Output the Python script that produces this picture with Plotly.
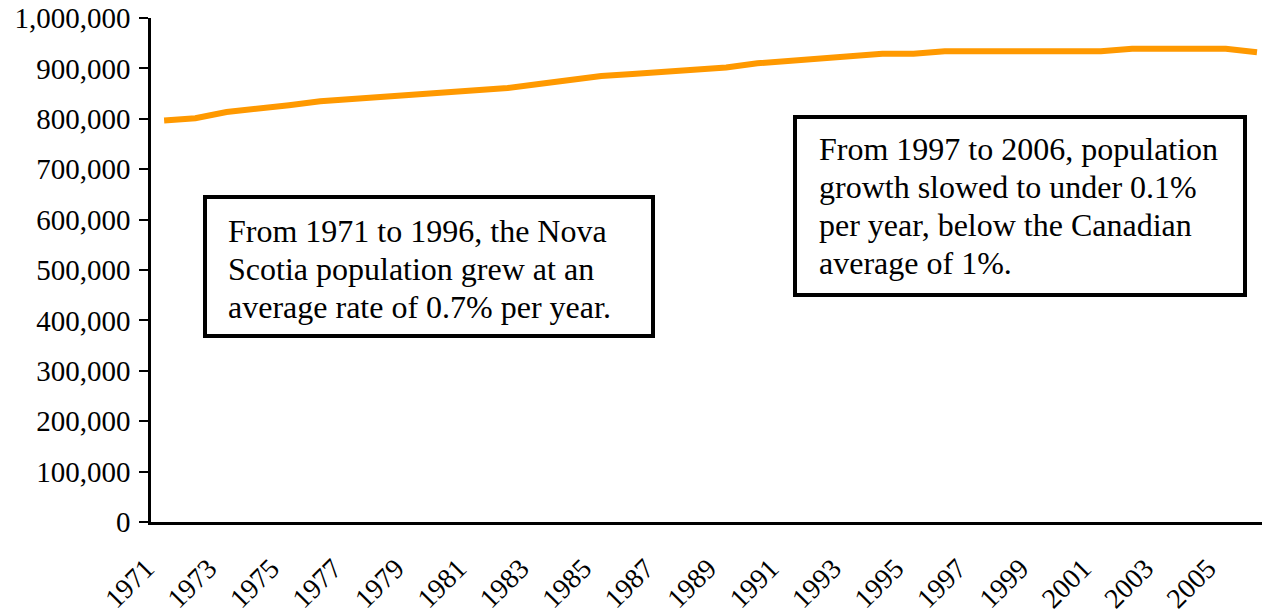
import plotly.graph_objects as go

years = list(range(1971, 2007))
population = [
    796600, 801000, 813600, 819000, 827000, 835000, 839500, 844000, 848000,
    852500, 857000, 861000, 869000, 877000, 885000, 889000, 893500, 898000,
    902000, 910000, 915000, 919500, 924000, 929000, 929000, 934000, 934000,
    934000, 934000, 934000, 934000, 939000, 939000, 939000, 939000, 932000,
]
tick_years = list(range(1971, 2006, 2))
note_left_lines = [
    "From 1971 to 1996, the Nova",
    "Scotia population grew at an",
    "average rate of 0.7% per year.",
]
note_right_lines = [
    "From 1997 to 2006, population",
    "growth slowed to under 0.1%",
    "per year, below the Canadian",
    "average of 1%.",
]

W, H = 1262, 616
L, R, T, B = 151, 0, 18, 94
pw, ph = W - L - R, H - T - B


def px(x):
    return (x - L) / pw


def py(y):
    return (H - B - y) / ph


font_family = "Liberation Serif, Times New Roman, serif"

fig = go.Figure()
fig.add_trace(go.Scatter(
    x=years, y=population, mode="lines",
    line=dict(color="#FF9900", width=6),
    hoverinfo="x+y", showlegend=False,
))

fig.update_layout(
    width=W, height=H,
    margin=dict(l=L, r=R, t=T, b=B, autoexpand=False),
    paper_bgcolor="white", plot_bgcolor="white",
    font=dict(family=font_family, color="black"),
    xaxis=dict(
        range=[1970.58, 2006.16],
        tickvals=tick_years,
        ticktext=[str(y) for y in tick_years],
        tickangle=-45,
        tickfont=dict(size=28, family=font_family, color="black"),
        ticklabelstandoff=16,
        ticklabelshift=-18,
        showline=True, linecolor="black", linewidth=2.5,
        showgrid=False, zeroline=False, ticks="",
        automargin=False,
    ),
    yaxis=dict(
        range=[0, 1000000],
        dtick=100000,
        tickformat=",d",
        tickfont=dict(size=29, family=font_family, color="black"),
        ticklabelstandoff=3,
        showline=True, linecolor="black", linewidth=2.5,
        ticks="outside", ticklen=9, tickwidth=2, tickcolor="black",
        showgrid=False, zeroline=False,
        automargin=False,
    ),
)

boxes = [
    (205, 197, 653, 336),
    (795, 117, 1245, 295),
]
for x0, y0, x1, y1 in boxes:
    fig.add_shape(type="rect", xref="paper", yref="paper",
                  x0=px(x0), x1=px(x1), y0=py(y1), y1=py(y0),
                  line=dict(color="black", width=4), fillcolor="white",
                  layer="above")

line_gap = 38
for lines, left, first_center in [(note_left_lines, 226, 231),
                                  (note_right_lines, 817, 149)]:
    for i, txt in enumerate(lines):
        fig.add_annotation(xref="paper", yref="paper",
                           x=px(left), y=py(first_center + i * line_gap),
                           xanchor="left", yanchor="middle", align="left",
                           text=txt, showarrow=False,
                           font=dict(size=32, family=font_family, color="black"))

fig.write_html("out.html", config={"displayModeBar": False})

with open("out.html", "r", encoding="utf-8") as f:
    html = f.read()
html = html.replace("<head>", "<head><style>html,body{margin:0;padding:0;overflow:hidden;}</style>", 1)
with open("out.html", "w", encoding="utf-8") as f:
    f.write(html)
